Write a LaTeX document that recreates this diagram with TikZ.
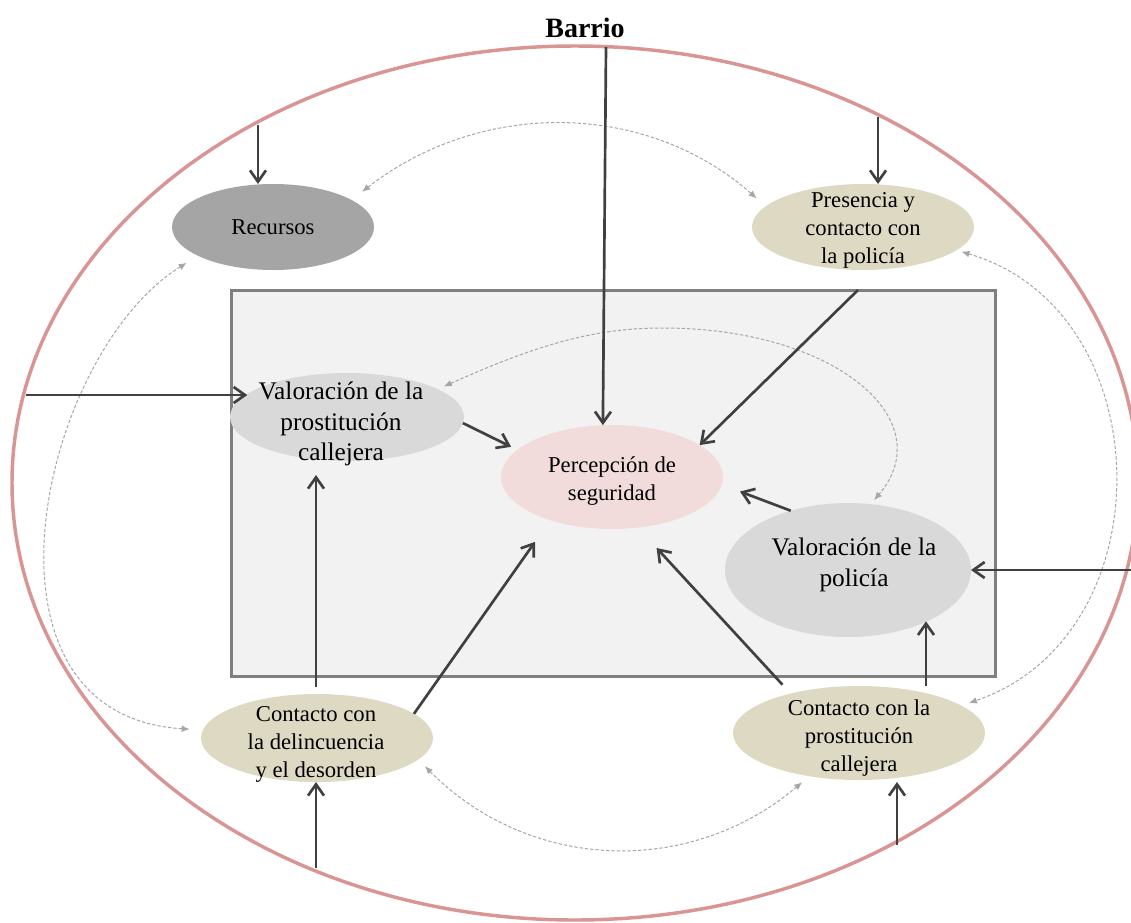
\documentclass[tikz,border=0pt]{standalone}
\usepackage{fontspec}
\setmainfont{Liberation Serif}
\usetikzlibrary{arrows.meta,shapes.geometric}
\definecolor{barrioc}{HTML}{D99594}
\definecolor{boxfill}{HTML}{F2F2F2}
\definecolor{boxdraw}{HTML}{7F7F7F}
\definecolor{recfill}{HTML}{A5A5A5}
\definecolor{tanfill}{HTML}{DDD9C3}
\definecolor{valfill}{HTML}{D9D9D9}
\definecolor{perfill}{HTML}{F2DCDB}
\definecolor{arrc}{HTML}{404040}
\definecolor{dashc}{HTML}{A6A6A6}
\tikzset{
  oval/.style={ellipse, draw=none, inner sep=0pt, outer sep=0pt},
  smalltxt/.style={align=center, inner sep=0pt, font=\fontsize{17}{21}\selectfont},
  largetxt/.style={align=center, inner sep=0pt, font=\fontsize{19}{23}\selectfont},
  solidarr/.style={draw=arrc, line width=2pt, -{Straight Barb[length=8.5pt,width=12pt,line width=2pt]}},
  dasharr/.style={draw=dashc, line width=0.75pt, dash pattern=on 2.5pt off 1.5pt,
     {Latex[length=6pt,width=5pt]}-{Latex[length=6pt,width=5pt]}}
}
\begin{document}
\begin{tikzpicture}[x=0.75pt,y=-0.75pt]
\useasboundingbox (0,0) rectangle (1131,922);
% neighbourhood ellipse
\draw[barrioc, line width=2.6pt] (575,483) ellipse [x radius=422.25pt, y radius=327.75pt];
\node[font=\bfseries\fontsize{21}{25}\selectfont, inner sep=0pt] (barrio) at (585,28) {Barrio};
% inner box
\draw[fill=boxfill, draw=boxdraw, line width=2.25pt] (231,290) rectangle (995,676);
% ellipses
\node[oval, fill=recfill, minimum width=151.5pt, minimum height=64.5pt] (rec) at (273,227) {};
\node[oval, fill=tanfill, minimum width=166.5pt, minimum height=64.5pt] (pres) at (863,227) {};
\node[oval, fill=valfill, minimum width=175.5pt, minimum height=66pt] (vp) at (347,417) {};
\node[oval, fill=perfill, minimum width=166.5pt, minimum height=78pt] (per) at (612,477) {};
\node[oval, fill=valfill, minimum width=184.5pt, minimum height=100.5pt] (vpol) at (848,570) {};
\node[oval, fill=tanfill, minimum width=174pt, minimum height=66pt] (cd) at (317,738) {};
\node[oval, fill=tanfill, minimum width=189pt, minimum height=70.5pt] (cp) at (859,733) {};
% texts
\node[smalltxt] (recT) at (273,227) {Recursos};
\node[smalltxt] (presT) at (863,230) {Presencia y\\contacto con\\la policía};
\node[largetxt] (vpT) at (341,424) {Valoración de la\\prostitución\\callejera};
\node[smalltxt] (perT) at (612,481) {Percepción de\\seguridad};
\node[largetxt] (vpolT) at (854,565) {Valoración de la\\policía};
\node[smalltxt] (cdT) at (316,744) {Contacto con\\la delincuencia\\y el desorden};
\node[smalltxt] (cpT) at (859,738) {Contacto con la\\prostitución\\callejera};
% dashed mutual links
\draw[dasharr, shorten <=10pt, shorten >=9pt] (rec.19.4) .. controls (480,100) and (645,100) .. (pres.168.8);
\draw[dasharr, shorten <=4pt, shorten >=6pt] (pres.-14.2) .. controls (1162,310) and (1168,635) .. (cp.15.4);
\draw[dasharr, shorten <=10pt, shorten >=10pt] (rec.201.1) .. controls (40,354) and (-40,715) .. (cd.176.5);
\draw[dasharr, shorten <=7pt, shorten >=7pt] (cd.-12.3) .. controls (530,872) and (690,877) .. (cp.221.2);
\draw[dasharr, shorten <=5pt, shorten >=4pt] (vp.17) .. controls (545,341) and (600,328) .. (663,328) .. controls (835,328) and (942,420) .. (vpol.71.6);
% entry points
\coordinate (s1) at (258,125);
\coordinate (s2) at (878,117);
\coordinate (s3) at (606,47);
\coordinate (s4) at (26,395);
\coordinate (s5) at (1133,570);
\coordinate (s6) at (858,290);
\coordinate (s9) at (316,687);
\coordinate (s12) at (926,686);
\coordinate (s13) at (316,868);
\coordinate (s14) at (897,845);
% solid arrows
\draw[solidarr] (s1) -- (s1 |- rec.north);
\draw[solidarr] (s2) -- (s2 |- pres.north);
\draw[solidarr] (s3) -- (per.100);
\draw[solidarr] (s4) -- (s4 -| vp.167.7);
\draw[solidarr] (s5) -- (vpol.east);
\draw[solidarr] (s6) -- (per.20);
\draw[solidarr, shorten >=5.2pt] (vp.-3) -- (per.164.3);
\draw[solidarr, shorten >=14.6pt] (vpol.134) -- (per.-4);
\draw[solidarr, shorten >=10.5pt] (s9) -- (s9 |- vp.south);
\draw[solidarr, shorten >=19.8pt] (cd.14) -- (per.215.6);
\draw[solidarr, shorten <=9pt, shorten >=20.8pt] (cp.150.8) -- (per.297.6);
\draw[solidarr] (s12) -- (s12 |- vpol.-33.6);
\draw[solidarr] (s13) -- (s13 |- cd.south);
\draw[solidarr, shorten >=1.5pt] (s14) -- (s14 |- cp.south);
\end{tikzpicture}
\end{document}
